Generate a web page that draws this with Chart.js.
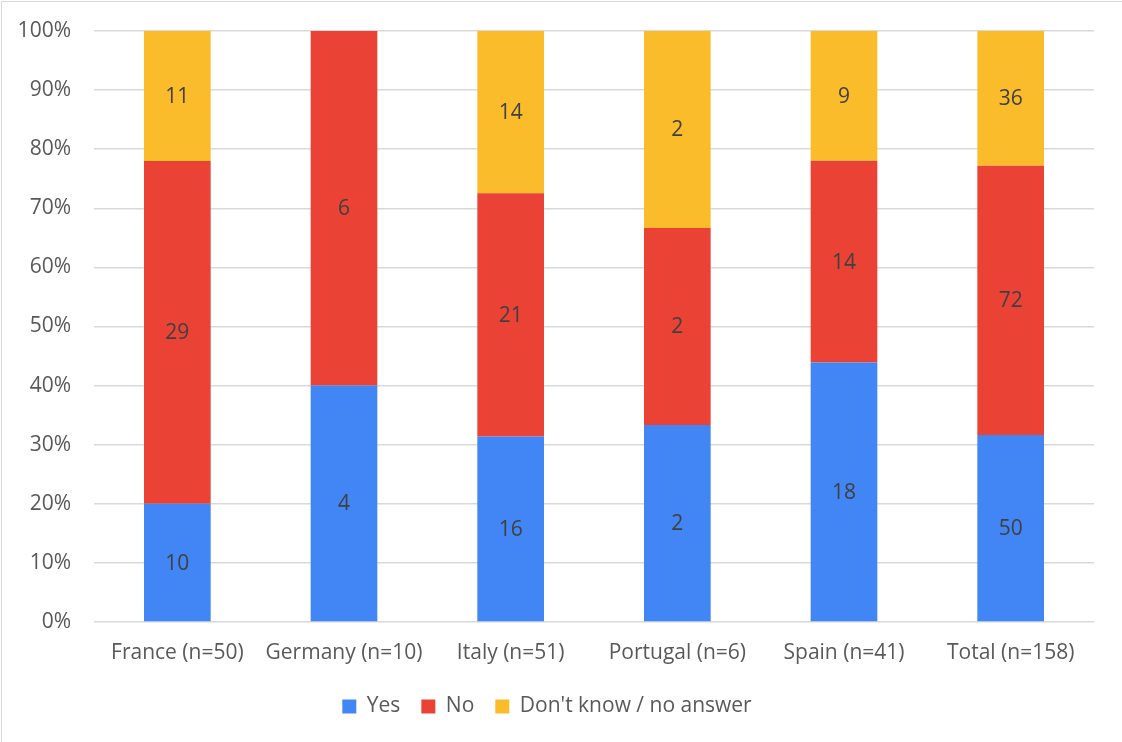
<!DOCTYPE html>
<html>
<head>
<meta charset="utf-8">
<script src="https://cdn.jsdelivr.net/npm/chart.js@4/dist/chart.umd.min.js"></script>
<style>
  html, body { margin: 0; padding: 0; background: #fff; }
  #wrap { position: relative; width: 1122px; height: 742px; }
  #frame { position: absolute; left: 1px; top: 1px; width: 1130px; height: 760px; border: 1.5px solid #d9d9d9; box-sizing: border-box; }
  canvas { position: absolute; left: 0; top: 0; }
</style>
</head>
<body>
<div id="wrap">
  <div id="frame"></div>
  <canvas id="chart" width="1122" height="742"></canvas>
</div>
<script>
var countries = ['France (n=50)', 'Germany (n=10)', 'Italy (n=51)', 'Portugal (n=6)', 'Spain (n=41)', 'Total (n=158)'];
var yesCounts = [10, 4, 16, 2, 18, 50];
var noCounts = [29, 6, 21, 2, 14, 72];
var dkCounts = [11, 0, 14, 2, 9, 36];

var seriesNames = ['Yes', 'No', "Don't know / no answer"];
var seriesColors = ['#4285F4', '#EA4335', '#FBBC2C'];

var FONT = '"Open Sans", "Noto Sans", sans-serif';
var FSIZE = 21;

// share of each answer within its country
function toPercent(counts) {
    return counts.map(function(c, i) {
        var total = yesCounts[i] + noCounts[i] + dkCounts[i];
        return total ? c / total * 100 : 0;
    });
}

var countSets = [yesCounts, noCounts, dkCounts];

// write the raw count in the middle of each segment
var segmentLabels = {
    id: 'segmentLabels',
    afterDatasetsDraw: function(chart) {
        var ctx = chart.ctx;
        ctx.save();
        ctx.font = FSIZE + 'px ' + FONT;
        ctx.fillStyle = '#404040';
        ctx.textAlign = 'center';
        ctx.textBaseline = 'middle';
        chart.data.datasets.forEach(function(ds, di) {
            var meta = chart.getDatasetMeta(di);
            meta.data.forEach(function(bar, i) {
                var n = countSets[di][i];
                if (!n) return;
                var mid = (bar.y + bar.base) / 2;
                ctx.fillText(String(n), bar.x, mid + 1);
            });
        });
        ctx.restore();
    }
};

new Chart(document.getElementById('chart'), {
    type: 'bar',
    data: {
        labels: countries,
        datasets: countSets.map(function(counts, k) {
            return {
                label: seriesNames[k],
                data: toPercent(counts),
                backgroundColor: seriesColors[k],
                borderWidth: 0,
                categoryPercentage: 1,
                barPercentage: 0.4
            };
        })
    },
    options: {
        responsive: false,
        animation: false,
        layout: { padding: { top: 31, right: 28, bottom: 15, left: 0 } },
        plugins: {
            legend: {
                position: 'bottom',
                labels: {
                    font: { family: FONT, size: FSIZE },
                    color: '#595959',
                    boxWidth: 14,
                    boxHeight: 14,
                    padding: 21
                }
            },
            tooltip: { enabled: false }
        },
        scales: {
            x: {
                stacked: true,
                grid: { display: false },
                border: { display: false },
                ticks: { font: { family: FONT, size: FSIZE }, color: '#595959', padding: 10, maxRotation: 0 },
                afterFit: function(s) { s.height = 53; }
            },
            y: {
                stacked: true,
                min: 0,
                max: 100,
                // invisible tick marks give the gap between labels and plot
                grid: { color: '#d9d9d9', lineWidth: 1.5, drawTicks: true, tickLength: 23, tickColor: 'rgba(0,0,0,0)' },
                border: { display: false },
                ticks: {
                    stepSize: 10,
                    font: { family: FONT, size: FSIZE },
                    color: '#595959',
                    padding: 0,
                    callback: function(v) { return v + '%'; }
                },
                afterFit: function(s) { s.width = 94; }
            }
        }
    },
    plugins: [segmentLabels]
});
</script>
</body>
</html>
